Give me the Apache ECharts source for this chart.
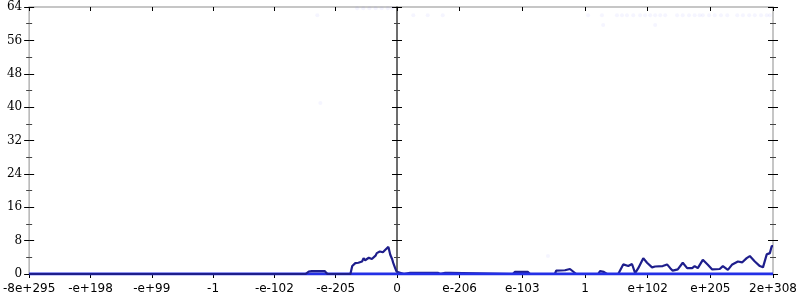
<!DOCTYPE html>
<html><head><meta charset="utf-8">
<script src="https://cdn.jsdelivr.net/npm/echarts@6/dist/echarts.min.js"></script>
<style>html,body{margin:0;padding:0;background:#fff}#c{width:800px;height:300px}</style>
</head><body><div id="c"></div>
<script>
// tick labels (one per unit step on each half)
var leftLabels = ['-8e+295','-e+198','-e+99','-1','-e-102','-e-205','0'];
var rightLabels = ['0','e-206','e-103','1','e+102','e+205','2e+308'];
var yTicks = [0,8,16,24,32,40,48,56,64];

// main (navy) line, [position, value]
var leftLine = [[-6,0],[-1.49,0],[-1.44,0.6],[-1.39,0.7],[-1.18,0.7],[-1.135,0],[-0.76,0],[-0.73,1.9],[-0.70,2.2],[-0.68,2.6],[-0.65,2.4],[-0.63,2.7],[-0.60,2.9],[-0.57,3.0],[-0.545,3.8],[-0.52,3.3],[-0.49,3.0],[-0.46,3.9],[-0.44,4.2],[-0.41,3.6],[-0.38,3.4],[-0.35,4.4],[-0.33,5.0],[-0.30,4.7],[-0.28,5.4],[-0.25,5.0],[-0.23,5.2],[-0.19,5.8],[-0.16,5.6],[-0.14,6.5],[-0.11,4.6],[-0.08,3.6],[-0.06,2.6],[-0.03,1.4],[-0.005,0.5],[0,0.5]];
var bumpArea = [[-1.49,0],[-1.44,0.6],[-1.39,0.7],[-1.18,0.7],[-1.135,0]];
var rightLine = [[0,0.5],[0.05,0.3],[0.11,0],[0.21,0.3],[0.37,0.3],[0.40,0],[0.45,0.3],[0.65,0.3],[0.69,0],[0.77,0.3],[0.85,0.3],[0.88,0],[1.85,0],[1.88,0.5],[2.09,0.5],[2.12,0],[2.52,0],[2.54,0.8],[2.68,0.9],[2.71,1.3],[2.76,1.2],[2.81,0.6],[2.86,0],[3.21,0],[3.24,0.7],[3.30,0.5],[3.35,0],[3.53,0],[3.56,0.4],[3.61,2.3],[3.69,1.9],[3.75,2.4],[3.80,0.2],[3.85,1.4],[3.93,3.8],[3.99,2.7],[4.07,1.6],[4.12,1.8],[4.15,1.5],[4.24,1.9],[4.31,2.3],[4.36,1.4],[4.40,0.8],[4.48,1.1],[4.56,2.7],[4.63,1.4],[4.71,1.4],[4.75,1.9],[4.80,1.4],[4.88,3.4],[4.96,2.2],[5.03,1.1],[5.15,1.2],[5.20,1.9],[5.28,1.0],[5.35,2.3],[5.44,3.0],[5.51,2.8],[5.58,3.8],[5.63,4.3],[5.71,3.0],[5.79,1.9],[5.84,1.6],[5.90,4.7],[5.95,5.0],[5.98,6.7],[6,6.7]];
// baseline (bright blue) series
var leftBase = [[-6,0],[0,0]];
var rightBase = [[0,0],[6,0]];
// faint scattered points
var leftDots = [[-0.65,63.7],[-0.55,63.7],[-0.45,63.7],[-0.35,63.7],[-0.25,63.7],[-0.15,63.7],[-0.08,63.7],[-1.3,62],[-1.25,41]];
var rightDots = [[0.26,62],[0.49,62],[0.73,62],[3.05,62],[3.27,62],[3.51,62],[3.59,62],[3.67,62],[3.77,62],[3.88,62],[3.96,62],[4.04,62],[4.12,62],[4.20,62],[4.28,62],[4.47,62],[4.56,62],[4.66,62],[4.75,62],[4.83,62],[4.88,62],[4.98,62],[5.07,62],[5.17,62],[5.27,62],[5.43,62],[5.52,62],[5.62,62],[5.71,62],[5.81,62],[5.90,62],[5.95,62],[3.29,59.7],[4.12,59.7],[2.41,4.3]];

var NAVY = '#1e1e8c', BLUE = '#2430e6', DOT = 'rgba(100,100,255,0.08)';

function yAx(grid, pos, inside, opts) {
  var a = {
    type:'value', gridIndex:grid, min:0, max:64, interval:8, position:pos,
    axisLine:{show:false, onZero:false},
    axisTick:{show:true, inside:inside, length:5, lineStyle:{color:'#000', width:1}},
    minorTick:{show:true, splitNumber:2, length:3, lineStyle:{color:'#444', width:1}},
    axisLabel:{show:false},
    splitLine:{show:false}
  };
  for (var k in opts) a[k] = opts[k];
  return a;
}
function xAx(grid, min, max, inside, labels) {
  return {
    type:'value', gridIndex:grid, min:min, max:max, interval:1,
    axisLine:{show:false, onZero:false},
    axisTick:{show:true, inside:inside, length:4, lineStyle:{color:'#000'}},
    splitLine:{show:false},
    axisLabel: labels ? {show:true, fontFamily:'DejaVu Sans', fontSize:12, color:'#000', margin:9,
      showMinLabel: grid === 0, showMaxLabel:true,
      formatter:function(v){ var i = Math.round(v - min); return labels[i] || ''; }} : {show:false}
  };
}

var chart = echarts.init(document.getElementById('c'));
chart.setOption({
  animation:false,
  grid:[
    {left:27, top:7, width:370, bottom:26, show:true, borderColor:'#b4b4b4', borderWidth:1.5},
    {left:397, top:7, width:376, bottom:26, show:true, borderColor:'#b4b4b4', borderWidth:1.5}
  ],
  xAxis:[
    xAx(0,-6,0,false,leftLabels), xAx(0,-6,0,true,null),
    xAx(1,0,6,false,rightLabels), xAx(1,0,6,true,null)
  ],
  yAxis:[
    yAx(0,'left',false,{axisLabel:{show:true, fontFamily:'DejaVu Serif', fontSize:12, color:'#000', margin:7,
      formatter:function(v){ return yTicks.indexOf(v) >= 0 ? String(v) : ''; }}}),
    yAx(0,'left',true,{}),
    yAx(0,'right',false,{axisLine:{show:true, onZero:false, lineStyle:{color:'#555', width:1.5}}}),
    yAx(0,'right',true,{}),
    yAx(1,'right',false,{}),
    yAx(1,'right',true,{})
  ],
  series:[
    {type:'scatter', xAxisIndex:0, yAxisIndex:0, data:leftDots, symbolSize:4, itemStyle:{color:DOT}, z:1},
    {type:'scatter', xAxisIndex:2, yAxisIndex:4, data:rightDots, symbolSize:4, itemStyle:{color:DOT}, z:1},
    {type:'line', xAxisIndex:0, yAxisIndex:0, data:leftBase, symbol:'none', lineStyle:{color:BLUE, width:3}, z:2},
    {type:'line', xAxisIndex:0, yAxisIndex:0, data:bumpArea, symbol:'none', lineStyle:{width:0}, areaStyle:{color:'rgba(90,90,230,0.35)'}, z:2},
    {type:'line', xAxisIndex:0, yAxisIndex:0, data:leftLine, symbol:'none', lineStyle:{color:NAVY, width:2.2}, z:3},
    {type:'line', xAxisIndex:2, yAxisIndex:4, data:rightLine, symbol:'none', lineStyle:{color:NAVY, width:2.2}, z:2},
    {type:'line', xAxisIndex:2, yAxisIndex:4, data:rightBase, symbol:'none', lineStyle:{color:BLUE, width:3}, z:3}
  ]
});
</script></body></html>
